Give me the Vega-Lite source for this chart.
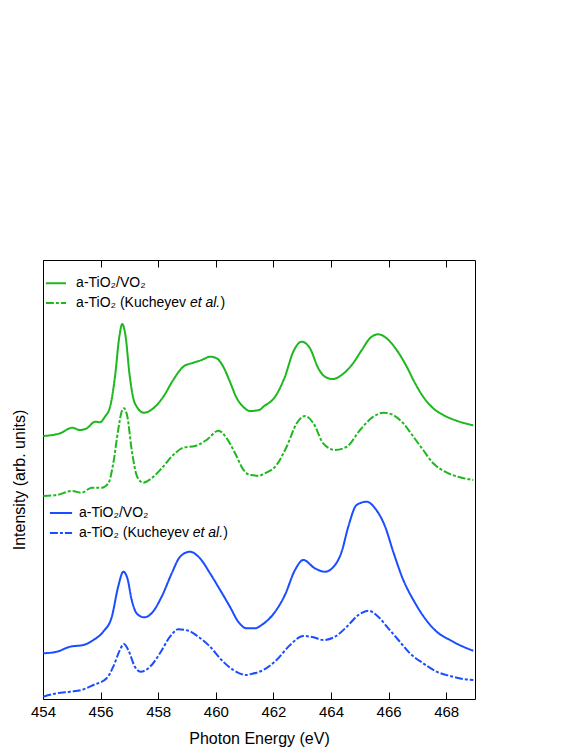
{
  "$schema": "https://vega.github.io/schema/vega-lite/v6.json",
  "width": 432,
  "height": 439,
  "padding": {"left": 43, "top": 260, "right": 106, "bottom": 53},
  "autosize": {"type": "none"},
  "background": "white",
  "config": {
    "view": {"stroke": "black", "strokeWidth": 1},
    "font": "Liberation Sans",
    "axis": {"labelFont": "Liberation Sans", "titleFont": "Liberation Sans", "titleFontWeight": "normal", "grid": false, "domain": false, "labelColor": "black", "titleColor": "black", "tickColor": "black"}
  },
  "resolve": {"axis": {"x": "independent"}},
  "datasets": {
    "spectra": [
      {"set": "upper", "sample": "film", "energy": 454.01, "intensity": 263},
      {"set": "upper", "sample": "film", "energy": 454.59, "intensity": 265.7},
      {"set": "upper", "sample": "film", "energy": 455.02, "intensity": 271.3},
      {"set": "upper", "sample": "film", "energy": 455.28, "intensity": 269},
      {"set": "upper", "sample": "film", "energy": 455.52, "intensity": 270.7},
      {"set": "upper", "sample": "film", "energy": 455.81, "intensity": 277.3},
      {"set": "upper", "sample": "film", "energy": 455.98, "intensity": 276.7},
      {"set": "upper", "sample": "film", "energy": 456.15, "intensity": 282.3},
      {"set": "upper", "sample": "film", "energy": 456.33, "intensity": 292.3},
      {"set": "upper", "sample": "film", "energy": 456.5, "intensity": 322.3},
      {"set": "upper", "sample": "film", "energy": 456.65, "intensity": 362.3},
      {"set": "upper", "sample": "film", "energy": 456.75, "intensity": 375},
      {"set": "upper", "sample": "film", "energy": 456.87, "intensity": 362.3},
      {"set": "upper", "sample": "film", "energy": 457.0, "intensity": 325.7},
      {"set": "upper", "sample": "film", "energy": 457.19, "intensity": 295.7},
      {"set": "upper", "sample": "film", "energy": 457.51, "intensity": 286.3},
      {"set": "upper", "sample": "film", "energy": 457.83, "intensity": 290.7},
      {"set": "upper", "sample": "film", "energy": 458.18, "intensity": 302.3},
      {"set": "upper", "sample": "film", "energy": 458.52, "intensity": 319},
      {"set": "upper", "sample": "film", "energy": 458.87, "intensity": 332.3},
      {"set": "upper", "sample": "film", "energy": 459.22, "intensity": 336.3},
      {"set": "upper", "sample": "film", "energy": 459.51, "intensity": 339},
      {"set": "upper", "sample": "film", "energy": 459.8, "intensity": 342.3},
      {"set": "upper", "sample": "film", "energy": 460.03, "intensity": 340.7},
      {"set": "upper", "sample": "film", "energy": 460.26, "intensity": 332.3},
      {"set": "upper", "sample": "film", "energy": 460.49, "intensity": 317.3},
      {"set": "upper", "sample": "film", "energy": 460.73, "intensity": 300.7},
      {"set": "upper", "sample": "film", "energy": 460.95, "intensity": 292.3},
      {"set": "upper", "sample": "film", "energy": 461.19, "intensity": 288},
      {"set": "upper", "sample": "film", "energy": 461.51, "intensity": 289},
      {"set": "upper", "sample": "film", "energy": 461.65, "intensity": 292.3},
      {"set": "upper", "sample": "film", "energy": 462.06, "intensity": 302.3},
      {"set": "upper", "sample": "film", "energy": 462.4, "intensity": 322.3},
      {"set": "upper", "sample": "film", "energy": 462.69, "intensity": 347.3},
      {"set": "upper", "sample": "film", "energy": 462.98, "intensity": 357.3},
      {"set": "upper", "sample": "film", "energy": 463.27, "intensity": 350.7},
      {"set": "upper", "sample": "film", "energy": 463.56, "intensity": 330.7},
      {"set": "upper", "sample": "film", "energy": 463.79, "intensity": 322.3},
      {"set": "upper", "sample": "film", "energy": 464.06, "intensity": 320},
      {"set": "upper", "sample": "film", "energy": 464.37, "intensity": 324},
      {"set": "upper", "sample": "film", "energy": 464.72, "intensity": 334},
      {"set": "upper", "sample": "film", "energy": 465.07, "intensity": 349},
      {"set": "upper", "sample": "film", "energy": 465.35, "intensity": 360.7},
      {"set": "upper", "sample": "film", "energy": 465.64, "intensity": 364.7},
      {"set": "upper", "sample": "film", "energy": 465.93, "intensity": 360.7},
      {"set": "upper", "sample": "film", "energy": 466.28, "intensity": 349},
      {"set": "upper", "sample": "film", "energy": 466.63, "intensity": 332.3},
      {"set": "upper", "sample": "film", "energy": 466.92, "intensity": 315.7},
      {"set": "upper", "sample": "film", "energy": 467.2, "intensity": 302.3},
      {"set": "upper", "sample": "film", "energy": 467.55, "intensity": 290.7},
      {"set": "upper", "sample": "film", "energy": 467.9, "intensity": 284},
      {"set": "upper", "sample": "film", "energy": 468.36, "intensity": 278.3},
      {"set": "upper", "sample": "film", "energy": 468.94, "intensity": 273.7},

      {"set": "upper", "sample": "ref", "energy": 454.01, "intensity": 203},
      {"set": "upper", "sample": "ref", "energy": 454.48, "intensity": 204},
      {"set": "upper", "sample": "ref", "energy": 455.0, "intensity": 208},
      {"set": "upper", "sample": "ref", "energy": 455.34, "intensity": 206.3},
      {"set": "upper", "sample": "ref", "energy": 455.69, "intensity": 211.3},
      {"set": "upper", "sample": "ref", "energy": 456.04, "intensity": 211.3},
      {"set": "upper", "sample": "ref", "energy": 456.27, "intensity": 215.7},
      {"set": "upper", "sample": "ref", "energy": 456.44, "intensity": 235.7},
      {"set": "upper", "sample": "ref", "energy": 456.61, "intensity": 269},
      {"set": "upper", "sample": "ref", "energy": 456.73, "intensity": 287.3},
      {"set": "upper", "sample": "ref", "energy": 456.81, "intensity": 290.7},
      {"set": "upper", "sample": "ref", "energy": 456.93, "intensity": 282.3},
      {"set": "upper", "sample": "ref", "energy": 457.08, "intensity": 249},
      {"set": "upper", "sample": "ref", "energy": 457.27, "intensity": 222.3},
      {"set": "upper", "sample": "ref", "energy": 457.48, "intensity": 216.3},
      {"set": "upper", "sample": "ref", "energy": 457.77, "intensity": 220.7},
      {"set": "upper", "sample": "ref", "energy": 458.12, "intensity": 230.7},
      {"set": "upper", "sample": "ref", "energy": 458.52, "intensity": 244},
      {"set": "upper", "sample": "ref", "energy": 458.87, "intensity": 251.3},
      {"set": "upper", "sample": "ref", "energy": 459.28, "intensity": 253},
      {"set": "upper", "sample": "ref", "energy": 459.68, "intensity": 259},
      {"set": "upper", "sample": "ref", "energy": 460.09, "intensity": 268.3},
      {"set": "upper", "sample": "ref", "energy": 460.38, "intensity": 260.7},
      {"set": "upper", "sample": "ref", "energy": 460.67, "intensity": 245.7},
      {"set": "upper", "sample": "ref", "energy": 460.95, "intensity": 229.7},
      {"set": "upper", "sample": "ref", "energy": 461.19, "intensity": 224},
      {"set": "upper", "sample": "ref", "energy": 461.51, "intensity": 223.3},
      {"set": "upper", "sample": "ref", "energy": 461.65, "intensity": 225},
      {"set": "upper", "sample": "ref", "energy": 462.11, "intensity": 234},
      {"set": "upper", "sample": "ref", "energy": 462.46, "intensity": 252.3},
      {"set": "upper", "sample": "ref", "energy": 462.81, "intensity": 275.7},
      {"set": "upper", "sample": "ref", "energy": 463.1, "intensity": 283},
      {"set": "upper", "sample": "ref", "energy": 463.39, "intensity": 275.7},
      {"set": "upper", "sample": "ref", "energy": 463.73, "intensity": 255.7},
      {"set": "upper", "sample": "ref", "energy": 464.14, "intensity": 249},
      {"set": "upper", "sample": "ref", "energy": 464.55, "intensity": 252.3},
      {"set": "upper", "sample": "ref", "energy": 465.01, "intensity": 269},
      {"set": "upper", "sample": "ref", "energy": 465.47, "intensity": 282.3},
      {"set": "upper", "sample": "ref", "energy": 465.82, "intensity": 286.3},
      {"set": "upper", "sample": "ref", "energy": 466.16, "intensity": 284},
      {"set": "upper", "sample": "ref", "energy": 466.51, "intensity": 275.7},
      {"set": "upper", "sample": "ref", "energy": 466.86, "intensity": 262.3},
      {"set": "upper", "sample": "ref", "energy": 467.2, "intensity": 249},
      {"set": "upper", "sample": "ref", "energy": 467.55, "intensity": 235.7},
      {"set": "upper", "sample": "ref", "energy": 467.96, "intensity": 227.3},
      {"set": "upper", "sample": "ref", "energy": 468.48, "intensity": 221.7},
      {"set": "upper", "sample": "ref", "energy": 468.94, "intensity": 219},

      {"set": "lower", "sample": "film", "energy": 454.01, "intensity": 45.7},
      {"set": "lower", "sample": "film", "energy": 454.48, "intensity": 47.3},
      {"set": "lower", "sample": "film", "energy": 454.94, "intensity": 52.3},
      {"set": "lower", "sample": "film", "energy": 455.4, "intensity": 54},
      {"set": "lower", "sample": "film", "energy": 455.75, "intensity": 59},
      {"set": "lower", "sample": "film", "energy": 456.09, "intensity": 67.3},
      {"set": "lower", "sample": "film", "energy": 456.39, "intensity": 82.3},
      {"set": "lower", "sample": "film", "energy": 456.61, "intensity": 112.3},
      {"set": "lower", "sample": "film", "energy": 456.79, "intensity": 127.3},
      {"set": "lower", "sample": "film", "energy": 456.93, "intensity": 120.7},
      {"set": "lower", "sample": "film", "energy": 457.08, "intensity": 99},
      {"set": "lower", "sample": "film", "energy": 457.27, "intensity": 85},
      {"set": "lower", "sample": "film", "energy": 457.51, "intensity": 81.7},
      {"set": "lower", "sample": "film", "energy": 457.77, "intensity": 85.7},
      {"set": "lower", "sample": "film", "energy": 458.12, "intensity": 102.3},
      {"set": "lower", "sample": "film", "energy": 458.47, "intensity": 125.7},
      {"set": "lower", "sample": "film", "energy": 458.76, "intensity": 142.3},
      {"set": "lower", "sample": "film", "energy": 459.1, "intensity": 147.3},
      {"set": "lower", "sample": "film", "energy": 459.45, "intensity": 140.7},
      {"set": "lower", "sample": "film", "energy": 459.8, "intensity": 125.7},
      {"set": "lower", "sample": "film", "energy": 460.15, "intensity": 109},
      {"set": "lower", "sample": "film", "energy": 460.49, "intensity": 92.3},
      {"set": "lower", "sample": "film", "energy": 460.78, "intensity": 77.3},
      {"set": "lower", "sample": "film", "energy": 461.07, "intensity": 70.7},
      {"set": "lower", "sample": "film", "energy": 461.36, "intensity": 70.7},
      {"set": "lower", "sample": "film", "energy": 461.59, "intensity": 74},
      {"set": "lower", "sample": "film", "energy": 462.06, "intensity": 87.3},
      {"set": "lower", "sample": "film", "energy": 462.4, "intensity": 104},
      {"set": "lower", "sample": "film", "energy": 462.75, "intensity": 129},
      {"set": "lower", "sample": "film", "energy": 463.04, "intensity": 139},
      {"set": "lower", "sample": "film", "energy": 463.44, "intensity": 130.7},
      {"set": "lower", "sample": "film", "energy": 463.79, "intensity": 127.3},
      {"set": "lower", "sample": "film", "energy": 464.14, "intensity": 134},
      {"set": "lower", "sample": "film", "energy": 464.37, "intensity": 147.3},
      {"set": "lower", "sample": "film", "energy": 464.6, "intensity": 172.3},
      {"set": "lower", "sample": "film", "energy": 464.89, "intensity": 194},
      {"set": "lower", "sample": "film", "energy": 465.24, "intensity": 197.3},
      {"set": "lower", "sample": "film", "energy": 465.53, "intensity": 190.7},
      {"set": "lower", "sample": "film", "energy": 465.88, "intensity": 172.3},
      {"set": "lower", "sample": "film", "energy": 466.16, "intensity": 147.3},
      {"set": "lower", "sample": "film", "energy": 466.51, "intensity": 119},
      {"set": "lower", "sample": "film", "energy": 466.86, "intensity": 99},
      {"set": "lower", "sample": "film", "energy": 467.26, "intensity": 80.7},
      {"set": "lower", "sample": "film", "energy": 467.67, "intensity": 67.3},
      {"set": "lower", "sample": "film", "energy": 468.13, "intensity": 59},
      {"set": "lower", "sample": "film", "energy": 468.59, "intensity": 52.3},
      {"set": "lower", "sample": "film", "energy": 468.94, "intensity": 48.3},

      {"set": "lower", "sample": "ref", "energy": 454.01, "intensity": 2.3},
      {"set": "lower", "sample": "ref", "energy": 454.48, "intensity": 5.7},
      {"set": "lower", "sample": "ref", "energy": 454.94, "intensity": 7.3},
      {"set": "lower", "sample": "ref", "energy": 455.34, "intensity": 9},
      {"set": "lower", "sample": "ref", "energy": 455.75, "intensity": 14},
      {"set": "lower", "sample": "ref", "energy": 456.21, "intensity": 20.7},
      {"set": "lower", "sample": "ref", "energy": 456.44, "intensity": 32.3},
      {"set": "lower", "sample": "ref", "energy": 456.67, "intensity": 49},
      {"set": "lower", "sample": "ref", "energy": 456.81, "intensity": 55},
      {"set": "lower", "sample": "ref", "energy": 456.96, "intensity": 49},
      {"set": "lower", "sample": "ref", "energy": 457.19, "intensity": 32.3},
      {"set": "lower", "sample": "ref", "energy": 457.39, "intensity": 27.3},
      {"set": "lower", "sample": "ref", "energy": 457.72, "intensity": 32.3},
      {"set": "lower", "sample": "ref", "energy": 458.06, "intensity": 45.7},
      {"set": "lower", "sample": "ref", "energy": 458.41, "intensity": 62.3},
      {"set": "lower", "sample": "ref", "energy": 458.7, "intensity": 69.7},
      {"set": "lower", "sample": "ref", "energy": 459.05, "intensity": 68.3},
      {"set": "lower", "sample": "ref", "energy": 459.39, "intensity": 62.3},
      {"set": "lower", "sample": "ref", "energy": 459.8, "intensity": 52.3},
      {"set": "lower", "sample": "ref", "energy": 460.2, "intensity": 39},
      {"set": "lower", "sample": "ref", "energy": 460.61, "intensity": 29},
      {"set": "lower", "sample": "ref", "energy": 461.07, "intensity": 24},
      {"set": "lower", "sample": "ref", "energy": 461.19, "intensity": 24.7},
      {"set": "lower", "sample": "ref", "energy": 461.65, "intensity": 29},
      {"set": "lower", "sample": "ref", "energy": 462.11, "intensity": 39},
      {"set": "lower", "sample": "ref", "energy": 462.58, "intensity": 54},
      {"set": "lower", "sample": "ref", "energy": 463.04, "intensity": 63},
      {"set": "lower", "sample": "ref", "energy": 463.39, "intensity": 61.7},
      {"set": "lower", "sample": "ref", "energy": 463.73, "intensity": 59},
      {"set": "lower", "sample": "ref", "energy": 464.14, "intensity": 62.3},
      {"set": "lower", "sample": "ref", "energy": 464.55, "intensity": 72.3},
      {"set": "lower", "sample": "ref", "energy": 464.95, "intensity": 84},
      {"set": "lower", "sample": "ref", "energy": 465.3, "intensity": 88.3},
      {"set": "lower", "sample": "ref", "energy": 465.64, "intensity": 82.3},
      {"set": "lower", "sample": "ref", "energy": 465.99, "intensity": 70.7},
      {"set": "lower", "sample": "ref", "energy": 466.34, "intensity": 59},
      {"set": "lower", "sample": "ref", "energy": 466.74, "intensity": 45.7},
      {"set": "lower", "sample": "ref", "energy": 467.2, "intensity": 35.7},
      {"set": "lower", "sample": "ref", "energy": 467.67, "intensity": 27.3},
      {"set": "lower", "sample": "ref", "energy": 468.13, "intensity": 23},
      {"set": "lower", "sample": "ref", "energy": 468.59, "intensity": 20},
      {"set": "lower", "sample": "ref", "energy": 468.94, "intensity": 19}
    ],
    "legend": [
      {"set": "upper", "sample": "film", "x1": 454.1, "x2": 454.8, "xt": 455.15, "y": 415.7, "label": "a-TiO₂/VO₂", "xi": null, "italic": null, "xc": null, "close": null},
      {"set": "upper", "sample": "ref", "x1": 454.1, "x2": 454.8, "xt": 455.15, "y": 396, "label": "a-TiO₂ (Kucheyev", "xi": 459.1, "italic": "et al.", "xc": 460.16, "close": ")"},
      {"set": "lower", "sample": "film", "x1": 454.24, "x2": 455.01, "xt": 455.25, "y": 186, "label": "a-TiO₂/VO₂", "xi": null, "italic": null, "xc": null, "close": null},
      {"set": "lower", "sample": "ref", "x1": 454.24, "x2": 455.01, "xt": 455.25, "y": 166, "label": "a-TiO₂ (Kucheyev", "xi": 459.2, "italic": "et al.", "xc": 460.26, "close": ")"}
    ]
  },
  "layer": [
    {
      "data": {"name": "spectra"},
      "mark": {"type": "line", "strokeWidth": 2, "clip": true, "interpolate": "monotone"},
      "encoding": {
        "x": {"field": "energy", "type": "quantitative", "scale": {"domain": [454, 469], "nice": false, "zero": false},
          "axis": {"orient": "bottom", "title": "Photon Energy (eV)", "values": [454, 456, 458, 460, 462, 464, 466, 468], "tickSize": -7, "labelFontSize": 15, "titleFontSize": 16, "labelPadding": 12, "titlePadding": 11, "labelFlush": false}},
        "y": {"field": "intensity", "type": "quantitative", "scale": {"domain": [0, 439], "nice": false, "zero": false},
          "axis": {"title": "Intensity (arb. units)", "labels": false, "ticks": false, "titleFontSize": 16, "titlePadding": 16}},
        "color": {"field": "set", "type": "nominal", "scale": {"domain": ["upper", "lower"], "range": ["#1db81d", "#1a4dff"]}, "legend": null},
        "strokeDash": {"field": "sample", "type": "nominal", "scale": {"domain": ["film", "ref"], "range": [[1, 0], [8, 2, 3, 2]]}, "legend": null}
      }
    },
    {
      "data": {"name": "spectra"},
      "mark": {"type": "rule", "opacity": 0},
      "encoding": {
        "x": {"field": "energy", "type": "quantitative", "axis": {"orient": "top", "title": null, "labels": false, "values": [454, 456, 458, 460, 462, 464, 466, 468], "tickSize": -7}}
      }
    },
    {
      "data": {"name": "legend"},
      "mark": {"type": "rule", "strokeWidth": 2},
      "encoding": {
        "x": {"field": "x1", "type": "quantitative", "axis": null},
        "x2": {"field": "x2"},
        "y": {"field": "y", "type": "quantitative"},
        "color": {"field": "set", "type": "nominal", "legend": null},
        "strokeDash": {"field": "sample", "type": "nominal", "legend": null}
      }
    },
    {
      "data": {"name": "legend"},
      "mark": {"type": "text", "align": "left", "baseline": "middle", "fontSize": 14, "font": "Liberation Sans", "color": "black"},
      "encoding": {
        "x": {"field": "xt", "type": "quantitative", "axis": null},
        "y": {"field": "y", "type": "quantitative"},
        "text": {"field": "label"}
      }
    },
    {
      "data": {"name": "legend"},
      "transform": [{"filter": "datum.italic != null"}],
      "mark": {"type": "text", "align": "left", "baseline": "middle", "fontSize": 14, "fontStyle": "italic", "font": "Liberation Sans", "color": "black"},
      "encoding": {
        "x": {"field": "xi", "type": "quantitative", "axis": null},
        "y": {"field": "y", "type": "quantitative"},
        "text": {"field": "italic"}
      }
    },
    {
      "data": {"name": "legend"},
      "transform": [{"filter": "datum.close != null"}],
      "mark": {"type": "text", "align": "left", "baseline": "middle", "fontSize": 14, "font": "Liberation Sans", "color": "black"},
      "encoding": {
        "x": {"field": "xc", "type": "quantitative", "axis": null},
        "y": {"field": "y", "type": "quantitative"},
        "text": {"field": "close"}
      }
    }
  ]
}
